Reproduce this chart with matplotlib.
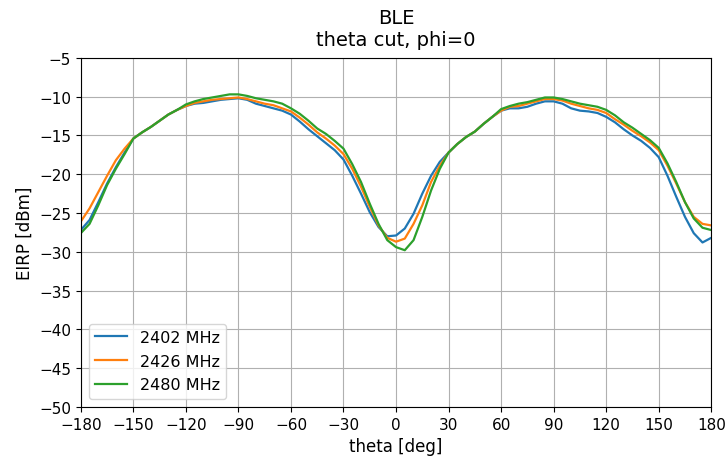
import matplotlib
matplotlib.use('Agg')
import matplotlib.pyplot as plt
import numpy as np

# angles in degrees, 5 deg steps
theta = np.arange(-180, 181, 5)

eirp_2402 = [-27.2, -25.9, -23.6, -21.2, -19.1, -17.2, -15.4, -14.6, -13.9, -13.1,
             -12.3, -11.7, -11.2, -10.9, -10.8, -10.6, -10.4, -10.3, -10.2, -10.4,
             -10.9, -11.2, -11.5, -11.8, -12.3, -13.2, -14.2, -15.1, -16.0, -16.9,
             -18.1, -20.2, -22.5, -24.9, -26.8, -28.0, -27.9, -27.0, -25.1, -22.5,
             -20.2, -18.4, -17.2, -16.1, -15.2, -14.5, -13.5, -12.6, -11.8, -11.5,
             -11.5, -11.3, -10.9, -10.6, -10.6, -10.9, -11.5, -11.8, -11.9, -12.1,
             -12.6, -13.3, -14.2, -15.0, -15.7, -16.6, -17.8, -20.2, -22.9, -25.5,
             -27.6, -28.8, -28.2]

eirp_2426 = [-26.1, -24.4, -22.3, -20.2, -18.2, -16.7, -15.4, -14.6, -13.9, -13.1,
             -12.3, -11.7, -11.2, -10.8, -10.6, -10.4, -10.3, -10.2, -10.1, -10.3,
             -10.6, -10.9, -11.1, -11.5, -11.9, -12.7, -13.6, -14.6, -15.4, -16.3,
             -17.4, -19.3, -21.6, -24.2, -26.6, -28.2, -28.7, -28.3, -26.4, -24.0,
             -21.0, -18.9, -17.2, -16.1, -15.2, -14.5, -13.5, -12.6, -11.8, -11.3,
             -11.2, -10.9, -10.6, -10.3, -10.3, -10.5, -10.9, -11.2, -11.5, -11.7,
             -12.1, -12.9, -13.6, -14.4, -15.1, -15.9, -16.9, -18.9, -21.2, -23.6,
             -25.5, -26.4, -26.6]

eirp_2480 = [-27.6, -26.4, -24.0, -21.4, -19.3, -17.4, -15.4, -14.6, -13.9, -13.1,
             -12.3, -11.7, -11.0, -10.6, -10.3, -10.1, -9.9, -9.7, -9.7, -9.9,
             -10.2, -10.4, -10.6, -10.9, -11.5, -12.2, -13.1, -14.1, -14.8, -15.7,
             -16.7, -18.7, -21.0, -23.8, -26.4, -28.5, -29.4, -29.8, -28.5, -25.5,
             -22.1, -19.3, -17.2, -16.1, -15.2, -14.5, -13.5, -12.6, -11.6, -11.2,
             -10.9, -10.7, -10.4, -10.1, -10.1, -10.3, -10.6, -10.9, -11.1, -11.3,
             -11.7, -12.4, -13.3, -14.0, -14.8, -15.6, -16.6, -18.6, -21.0, -23.6,
             -25.7, -26.9, -27.2]

labels = ['2402 MHz', '2426 MHz', '2480 MHz']

fig = plt.figure(figsize=(7.28, 4.64), dpi=100)
ax = fig.add_axes([0.111, 0.121, 0.866, 0.752])

for y, lab in zip([eirp_2402, eirp_2426, eirp_2480], labels):
    ax.plot(theta, y, label=lab, linewidth=1.6)

ax.set_xlim(-180, 180)
ax.set_ylim(-50, -5)
ax.set_xticks(np.arange(-180, 181, 30))
ax.set_yticks(np.arange(-50, -4, 5))
ax.tick_params(labelsize=11)
ax.grid(True)
ax.set_xlabel('theta [deg]', fontsize=12)
ax.set_ylabel('EIRP [dBm]', fontsize=12)
ax.set_title('BLE\ntheta cut, phi=0', fontsize=14, pad=9)
ax.legend(loc='lower left', fontsize=11.5, labelspacing=0.55)

fig.savefig('out.png', dpi=100)
